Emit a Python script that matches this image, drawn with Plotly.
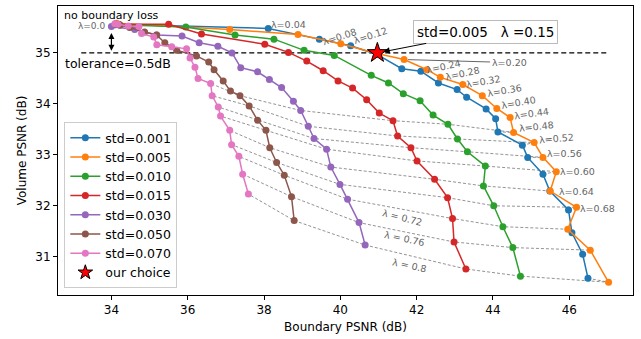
import plotly.graph_objects as go

lambdas = [0.0, 0.04, 0.08, 0.12, 0.16, 0.20, 0.24, 0.28, 0.32, 0.36, 0.40,
           0.44, 0.48, 0.52, 0.56, 0.60, 0.64, 0.68, 0.72, 0.76, 0.80]

stds = ["0.001", "0.005", "0.010", "0.015", "0.030", "0.050", "0.070"]
colors = ["#1f77b4", "#ff7f0e", "#2ca02c", "#d62728", "#9467bd", "#8c564b", "#e377c2"]

bx_001 = [34.11, 38.11, 39.45, 40.27, 40.96, 41.61, 42.11, 42.57, 43.06, 43.31, 43.82,
          44.07, 44.13, 44.77, 44.91, 45.31, 45.49, 45.98, 46.07, 46.35, 46.49]
vy_001 = [35.56, 35.48, 35.27, 35.14, 34.97, 34.69, 34.64, 34.41, 34.28, 34.13, 33.90,
          33.71, 33.45, 33.19, 32.95, 32.62, 32.29, 31.92, 31.47, 31.05, 30.58]

bx_005 = [34.13, 37.10, 38.89, 40.01, 40.96, 41.67, 42.27, 42.62, 43.21, 43.72, 44.10,
          44.45, 44.54, 45.08, 45.31, 45.66, 45.50, 46.19, 45.96, 46.55, 47.03]
vy_005 = [35.58, 35.46, 35.36, 35.18, 34.99, 34.87, 34.67, 34.52, 34.38, 34.16, 33.91,
          33.73, 33.44, 33.24, 32.95, 32.67, 32.29, 31.97, 31.54, 31.13, 30.50]

bx_010 = [34.11, 34.22, 35.95, 37.24, 38.26, 39.05, 39.84, 40.81, 41.26, 41.65, 42.09,
          42.43, 42.82, 43.07, 43.33, 43.80, 43.75, 44.02, 44.26, 44.52, 44.72]
vy_010 = [35.55, 35.55, 35.51, 35.35, 35.27, 35.05, 34.95, 34.56, 34.41, 34.20, 34.06,
          33.78, 33.60, 33.31, 33.06, 32.78, 32.39, 32.00, 31.59, 31.18, 30.62]

bx_015 = [34.11, 34.19, 35.50, 36.36, 38.02, 38.64, 39.12, 39.55, 39.94, 40.32, 40.69,
          41.02, 41.38, 41.50, 41.85, 42.01, 42.47, 42.81, 42.94, 42.98, 43.29]
vy_015 = [35.56, 35.56, 35.56, 35.37, 35.17, 35.01, 34.84, 34.65, 34.45, 34.31, 34.08,
          33.82, 33.67, 33.37, 33.14, 32.88, 32.52, 32.16, 31.75, 31.29, 30.76]

bx_030 = [34.00, 34.61, 35.19, 35.85, 36.30, 36.79, 37.16, 37.39, 37.83, 38.14, 38.46,
          38.77, 38.96, 39.16, 39.31, 39.64, 39.75, 39.99, 40.19, 40.49, 40.65]
vy_030 = [35.52, 35.46, 35.35, 35.33, 35.20, 35.13, 35.00, 34.71, 34.63, 34.48, 34.32,
          34.05, 33.87, 33.56, 33.32, 33.11, 32.76, 32.42, 32.13, 31.67, 31.23]

bx_050 = [34.11, 34.22, 34.48, 34.87, 35.18, 35.40, 35.71, 36.23, 36.55, 36.69, 36.93,
          37.12, 37.37, 37.61, 37.83, 38.05, 38.15, 38.33, 38.53, 38.72, 38.79]
vy_050 = [35.56, 35.54, 35.50, 35.41, 35.35, 35.20, 35.05, 34.94, 34.82, 34.67, 34.45,
          34.25, 34.16, 33.96, 33.68, 33.48, 33.14, 32.85, 32.60, 32.18, 31.71]

bx_070 = [34.09, 34.17, 34.44, 34.72, 34.79, 35.11, 35.19, 35.58, 35.97, 36.06, 36.19,
          36.27, 36.60, 36.64, 36.80, 36.86, 37.10, 37.15, 37.34, 37.44, 37.59]
vy_070 = [35.57, 35.56, 35.53, 35.52, 35.38, 35.31, 35.16, 35.12, 35.08, 34.90, 34.72,
          34.50, 34.40, 34.16, 33.94, 33.76, 33.48, 33.20, 32.97, 32.62, 32.23]

series_x = [bx_001, bx_005, bx_010, bx_015, bx_030, bx_050, bx_070]
series_y = [vy_001, vy_005, vy_010, vy_015, vy_030, vy_050, vy_070]

choice_x = [40.97]
choice_y = [35.00]
choice_std = "0.005"
choice_lambda = "0.15"

tolerance_y = 35.0
tolerance_x = [33.21, 47.03]

x_ticks = [34, 36, 38, 40, 42, 44, 46]
y_ticks = [31, 32, 33, 34, 35]

# iso-lambda dashed lines from lambda=0.48 on
iso_start = 12

# lambda labels: (text, x, y, angle)
lam_labels = [
    ("λ=0.04", 38.65, 35.56, 0),
    ("λ=0.08", 39.99, 35.33, -18),
    ("λ=0.12", 40.78, 35.35, -18),
    ("λ=0.24", 42.70, 34.74, -12),
    ("λ=0.28", 43.19, 34.60, -12),
    ("λ=0.32", 43.75, 34.43, -10),
    ("λ=0.36", 44.30, 34.27, -10),
    ("λ=0.40", 44.66, 34.03, -10),
    ("λ=0.44", 45.01, 33.82, -8),
    ("λ=0.48", 45.14, 33.56, -6),
    ("λ=0.52", 45.66, 33.33, -5),
    ("λ=0.56", 45.87, 33.03, 0),
    ("λ=0.60", 46.21, 32.68, 0),
    ("λ=0.64", 46.19, 32.29, 0),
    ("λ=0.68", 46.74, 31.95, 0),
    ("λ = 0.72", 41.62, 31.78, 14),
    ("λ = 0.76", 41.68, 31.35, 12),
    ("λ = 0.8", 41.82, 30.82, 12),
]

FONT = "DejaVu Sans"
fig = go.Figure()

# iso-lambda lines
for k in range(iso_start, len(lambdas)):
    fig.add_trace(go.Scatter(
        x=[sx[k] for sx in series_x], y=[sy[k] for sy in series_y],
        mode="lines", line=dict(color="rgba(128,128,128,0.85)", width=1, dash="3px,2px"),
        showlegend=False, hoverinfo="skip"))

# tolerance line
fig.add_trace(go.Scatter(x=tolerance_x, y=[tolerance_y, tolerance_y], mode="lines",
                         line=dict(color="black", width=1.3, dash="5px,3px"),
                         showlegend=False, hoverinfo="skip"))

for s, c, sx, sy in zip(stds, colors, series_x, series_y):
    fig.add_trace(go.Scatter(x=sx, y=sy, mode="lines+markers", name=f"std={s}",
                             line=dict(color=c, width=1.5),
                             marker=dict(color=c, size=7)))

fig.add_trace(go.Scatter(x=choice_x, y=choice_y, mode="markers", name="our choice",
                         showlegend=False,
                         marker=dict(symbol="star", size=15, color="red",
                                     line=dict(color="black", width=1))))
# legend entry for the star (smaller symbol, like matplotlib's legend)
fig.add_trace(go.Scatter(x=[None], y=[None], mode="markers", name="our choice",
                         marker=dict(symbol="star", size=11, color="red",
                                     line=dict(color="black", width=1))))

ann = []
ann.append(dict(x=bx_030[0] - 0.12, y=vy_030[0], text="λ=0.0", showarrow=False,
                xanchor="right", font=dict(size=9, color="#666", family=FONT)))
for t, x, y, a in lam_labels:
    ann.append(dict(x=x, y=y, text=t, showarrow=False, textangle=a,
                    font=dict(size=9.5, color="#666", family=FONT)))
# lambda=0.20 with leader line
ann.append(dict(x=bx_005[5], y=vy_005[5], text="λ=0.20", showarrow=True, arrowhead=0,
                arrowwidth=1, arrowcolor="#666", ax=105, ay=3, standoff=4,
                font=dict(size=9.5, color="#666", family=FONT)))
# our choice callout
ann.append(dict(x=choice_x[0], y=choice_y[0],
                text=f"std={choice_std}   λ =0.{choice_lambda.split('.')[1]}",
                showarrow=True, arrowhead=2, arrowsize=1.3, arrowwidth=1, arrowcolor="black",
                ax=108, ay=-21, standoff=6, bgcolor="white", bordercolor="#bbb",
                borderwidth=1, borderpad=3, font=dict(size=13.5, color="black", family=FONT)))
# double arrow
ann.append(dict(x=34.0, y=35.04, ax=34.0, ay=35.42, axref="x", ayref="y", text="",
                showarrow=True, arrowhead=2, arrowside="end+start", arrowsize=1,
                arrowwidth=1.2, arrowcolor="black"))
ann.append(dict(x=32.71, y=35.74, text="no boundary loss", showarrow=False, xanchor="left",
                font=dict(size=11, color="black", family=FONT)))
ann.append(dict(x=32.73, y=34.79, text="tolerance=0.5dB", showarrow=False, xanchor="left",
                font=dict(size=12.5, color="black", family=FONT)))

fig.update_layout(
    width=641, height=339,
    margin=dict(l=58, r=8, t=6, b=44),
    plot_bgcolor="white", paper_bgcolor="white",
    font=dict(family=FONT, size=12, color="black"),
    annotations=ann,
    legend=dict(x=0.011, y=0.024, xanchor="left", yanchor="bottom",
                bgcolor="white", bordercolor="#ccc", borderwidth=1,
                font=dict(size=12.5, family=FONT), tracegroupgap=0, itemwidth=30),
    xaxis=dict(range=[32.60, 47.67], tickvals=x_ticks, showgrid=False, zeroline=False,
               showline=True, linecolor="black", linewidth=1, mirror=True,
               ticks="outside", ticklen=4, tickcolor="black",
               title=dict(text="Boundary PSNR (dB)", font=dict(size=12), standoff=6)),
    yaxis=dict(range=[30.25, 35.92], tickvals=y_ticks, showgrid=False, zeroline=False,
               showline=True, linecolor="black", linewidth=1, mirror=True,
               ticks="outside", ticklen=4, tickcolor="black",
               title=dict(text="Volume PSNR (dB)", font=dict(size=12), standoff=6)),
)

fig.write_html("out.html")
